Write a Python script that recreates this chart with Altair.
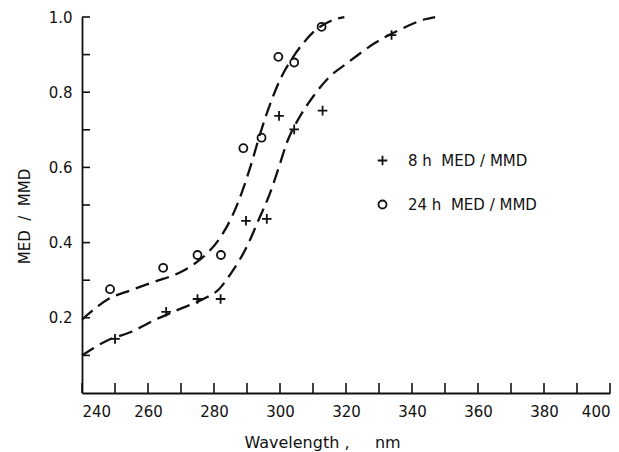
import altair as alt
import pandas as pd

# ---- data ----
s8_label = "8 h\u00a0\u00a0MED / MMD"
s24_label = "24 h\u00a0\u00a0MED / MMD"

pts8_x = [250, 265.5, 275, 282, 289.7, 296, 299.7, 304.3, 312.9, 333.8]
pts8_y = [0.144, 0.216, 0.250, 0.250, 0.458, 0.463, 0.737, 0.701, 0.751, 0.952]
pts24_x = [248.5, 264.6, 275, 282.1, 288.9, 294.4, 299.5, 304.3, 312.6]
pts24_y = [0.276, 0.333, 0.367, 0.367, 0.651, 0.679, 0.894, 0.879, 0.974]

curve8_x = [240, 248, 255, 262, 269, 276.5, 281.5, 285.5, 290, 293.5, 297, 300, 302, 306, 310, 315, 320, 329, 336, 344, 347]
curve8_y = [0.10, 0.141, 0.163, 0.194, 0.221, 0.249, 0.276, 0.323, 0.39, 0.46, 0.532, 0.610, 0.664, 0.735, 0.788, 0.841, 0.875, 0.932, 0.965, 0.994, 1.0]
curve24_x = [240, 248, 255, 262, 269, 274, 278, 282, 285.5, 288.5, 291.5, 294, 297.5, 300.5, 304, 307, 310.5, 315, 319.5]
curve24_y = [0.195, 0.250, 0.274, 0.296, 0.318, 0.343, 0.372, 0.415, 0.470, 0.535, 0.615, 0.690, 0.780, 0.842, 0.894, 0.930, 0.963, 0.988, 1.0]

x_ticks = list(range(240, 401, 10))
x_labels = list(range(240, 401, 20))
y_ticks = [round(0.1 * i, 1) for i in range(1, 11)]
y_labels = [0.2, 0.4, 0.6, 0.8, 1.0]

# ---- tables ----
points = pd.DataFrame(
    {"wl": pts8_x + pts24_x,
     "v": pts8_y + pts24_y,
     "series": [s8_label] * len(pts8_x) + [s24_label] * len(pts24_x)}
)
curves = pd.DataFrame(
    {"wl": curve8_x + curve24_x,
     "v": curve8_y + curve24_y,
     "series": [s8_label] * len(curve8_x) + [s24_label] * len(curve24_x)}
)
xt = pd.DataFrame({"wl": x_ticks})
yt = pd.DataFrame({"v": y_ticks})

W, H = 528, 376
FONT = "DejaVu Sans"
INK = "#111111"

xscale = alt.Scale(domain=[240, 400], nice=False, zero=False)
yscale = alt.Scale(domain=[0, 1.0], nice=False)

xaxis = alt.Axis(
    values=x_labels, ticks=False, grid=False, domainColor=INK, domainWidth=1.8,
    labelFont=FONT, labelFontSize=15, labelColor=INK, labelPadding=11,
    title="Wavelength ,\u00a0\u00a0\u00a0\u00a0\u00a0nm", titleFont=FONT,
    titleFontSize=16, titleFontWeight="normal", titleColor=INK,
    titleX=240, titleY=49, titleBaseline="middle", titleAlign="center",
)
yaxis = alt.Axis(
    values=y_labels, format=".1f", ticks=False, grid=False, domainColor=INK,
    domainWidth=1.8, labelFont=FONT, labelFontSize=15, labelColor=INK,
    labelPadding=10,
    title="MED\u00a0\u00a0/\u00a0\u00a0MMD", titleFont=FONT, titleFontSize=15,
    titleFontWeight="normal", titleColor=INK, titleX=-58, titleY=199,
    titleAngle=-90, titleBaseline="middle", titleAlign="center",
)

lines = alt.Chart(curves).mark_line(
    color=INK, strokeWidth=2.3, strokeDash=[14, 7], interpolate="monotone"
).encode(
    x=alt.X("wl:Q", scale=xscale, axis=xaxis),
    y=alt.Y("v:Q", scale=yscale, axis=yaxis),
    detail="series:N",
)

marks = alt.Chart(points).mark_point(
    filled=False, color=INK, strokeWidth=1.8, size=64, opacity=1
).encode(
    x=alt.X("wl:Q", scale=xscale),
    y=alt.Y("v:Q", scale=yscale),
    shape=alt.Shape(
        "series:N",
        scale=alt.Scale(domain=[s8_label, s24_label],
                        range=["M-1.2,0H1.2M0,-1.2V1.2", "circle"]),
        legend=alt.Legend(
            title=None, orient="none", legendX=293, legendY=136,
            labelFont=FONT, labelFontSize=15, labelColor=INK, labelOffset=18,
            rowPadding=27, padding=0, symbolSize=64, symbolStrokeWidth=1.8,
            symbolStrokeColor=INK, symbolFillColor="transparent",
        ),
    ),
)

xticks = alt.Chart(xt).mark_rule(color=INK, strokeWidth=1.6).encode(
    x=alt.X("wl:Q", scale=xscale),
    y=alt.value(H),
    y2=alt.value(H - 10),
)
yticks = alt.Chart(yt).mark_rule(color=INK, strokeWidth=1.6).encode(
    y=alt.Y("v:Q", scale=yscale),
    x=alt.value(0),
    x2=alt.value(8),
)

chart = alt.layer(lines, marks, xticks, yticks).properties(
    width=W, height=H,
    autosize=alt.AutoSizeParams(type="none"),
    padding={"left": 82, "top": 17, "right": 9, "bottom": 59},
    background="white",
).configure_view(stroke=None)

chart.save("out.html", embed_options={"renderer": "svg", "actions": False})
